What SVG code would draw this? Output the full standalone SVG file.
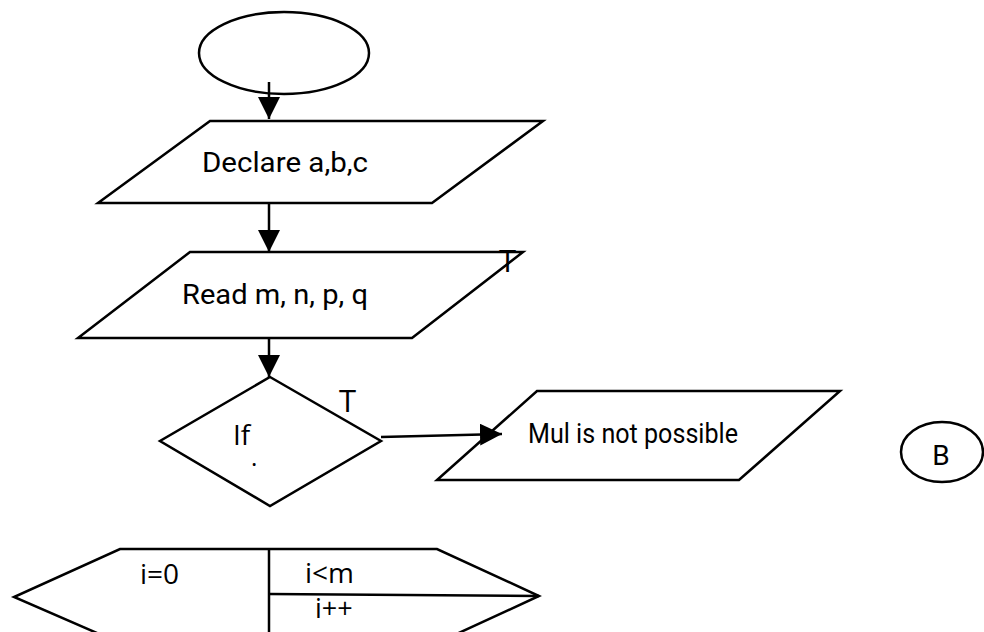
<svg xmlns="http://www.w3.org/2000/svg" width="984" height="632" viewBox="0 0 984 632">
<style>
.s{fill:#fff;stroke:#000;stroke-width:2.5}
.l{fill:none;stroke:#000;stroke-width:2.5}
.t{font-family:Roboto,"Liberation Sans",sans-serif;font-size:28px;fill:#000}
.o{font-family:"Open Sans","Noto Sans",sans-serif;font-size:28px;fill:#000}
.sm{font-size:27px}
.big{font-size:31px}
.dot{font-size:24px}
</style>
<defs>
<marker id="a" viewBox="0 0 22 22" refX="22" refY="11" markerWidth="22" markerHeight="22" markerUnits="userSpaceOnUse" orient="auto">
<path d="M0,0 L22,11 L0,22 z" fill="#000"/>
</marker>
</defs>
<g id="start"><ellipse class="s" cx="284" cy="53" rx="85" ry="41"/></g>
<g id="declare"><polygon class="s" points="210,121 543,121 432,203 98,203"/><text class="t" x="202" y="172" textLength="166" lengthAdjust="spacingAndGlyphs">Declare a,b,c</text></g>
<g id="read"><polygon class="s" points="190,252 523,252 412,338 78,338"/><text class="t" x="182" y="304" textLength="186" lengthAdjust="spacingAndGlyphs">Read m, n, p, q</text></g>
<g id="if"><polygon class="s" points="270,377 381,441 270,506 160,441"/><text class="o" x="233" y="445">If</text><text class="o dot" x="251" y="466">.</text></g>
<g id="mul"><polygon class="s" points="537,391 840,391 739,480 437,480"/><text class="t" x="528" y="443" textLength="210" lengthAdjust="spacingAndGlyphs">Mul is not possible</text></g>
<g id="b"><ellipse class="s" cx="942" cy="452" rx="41" ry="30"/><text class="t" x="941" y="465" text-anchor="middle">B</text></g>
<g id="loop"><polygon class="s" points="120,549 437,549 539,596 437,643 120,643 14,597"/><line class="l" x1="269" y1="549" x2="269" y2="632"/><line class="l" x1="269" y1="594" x2="539" y2="596"/><text class="o" x="140" y="584">i=0</text><text class="o" x="305" y="583">i&lt;m</text><text class="o sm" x="315" y="618">i++</text></g>
<g id="labels"><text class="o big" x="499" y="272">T</text><text class="o big" x="339" y="412">T</text></g>
<g id="connectors">
<line class="l" x1="269" y1="82" x2="269" y2="119" marker-end="url(#a)"/>
<line class="l" x1="269" y1="203" x2="269" y2="252" marker-end="url(#a)"/>
<line class="l" x1="269" y1="338" x2="269" y2="377" marker-end="url(#a)"/>
<line class="l" x1="381" y1="437" x2="502" y2="434" marker-end="url(#a)"/>
</g>
</svg>
